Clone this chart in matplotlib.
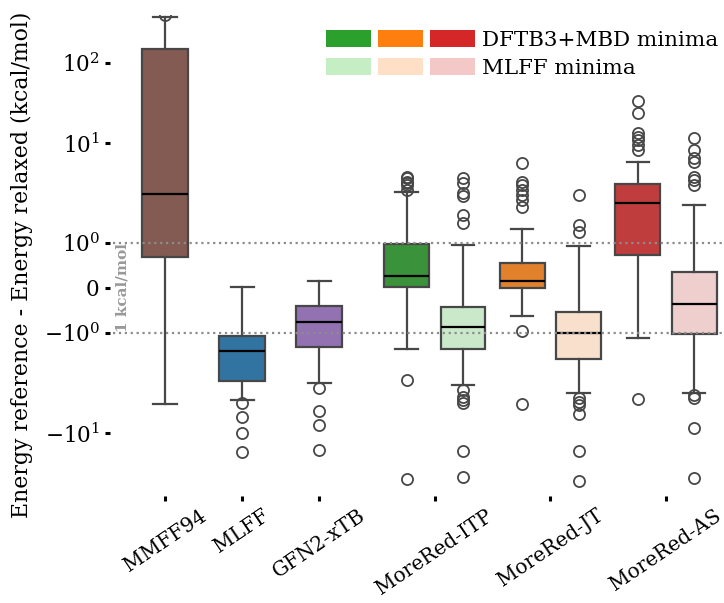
import numpy as np
import matplotlib
matplotlib.use("Agg")
import matplotlib.pyplot as plt
from matplotlib.patches import Patch
from matplotlib.legend_handler import HandlerTuple
import seaborn as sns

plt.rcParams['font.family'] = 'DejaVu Serif'
plt.rcParams['mathtext.fontset'] = 'dejavuserif'

# x categories
methods = ["MMFF94", "MLFF", "GFN2-xTB", "MoreRed-ITP", "MoreRed-JT", "MoreRed-AS"]

# box statistics (kcal/mol)
# order: MMFF94, MLFF, GFN2-xTB, ITP(DFTB), ITP(MLFF), JT(DFTB), JT(MLFF), AS(DFTB), AS(MLFF)
medians = [3.09, -1.51, -0.75, 0.27, -0.87, 0.16, -1.0, 2.53, -0.35]
q1 = [0.69, -3.02, -1.39, 0.03, -1.45, 0.0, -1.83, 0.73, -1.02]
q3 = [151, -1.07, -0.39, 0.98, -0.42, 0.56, -0.54, 3.89, 0.36]
whislo = [-5.09, -4.68, -3.14, -1.45, -3.31, -0.62, -4.01, -1.12, -3.95]
whishi = [372, 0.03, 0.16, 3.21, 0.96, 1.38, 0.93, 6.5, 2.42]
fliers = [
    [398],
    [-5.05, -6.87, -9.93, -17.1],
    [-3.57, -5.98, -8.32, -16.3],
    [4.6, 4.44, 4.1, 3.95, 3.8, 3.39, -2.95, -37.9],
    [4.44, 3.95, 3.14, 2.95, 1.91, 1.57, -3.72, -4.33, -4.68, -5.05, -16.6, -35.8],
    [6.35, 4.1, 3.8, 3.39, 3.02, 2.69, 2.31, -0.96, -5.16],
    [3.02, 1.51, 1.3, -4.5, -4.86, -5.25, -6.5, -16.6, -39.8],
    [33.8, 23.5, 13.2, 12.0, 10.9, 9.55, 8.5, -4.6],
    [11.5, 8.5, 7.03, 6.5, 4.6, 4.27, 3.8, -4.2, -4.45, -8.98, -36.2],
]

base_colors = ['#8c564b', '#1f77b4', '#9467bd',
               '#2ca02c', '#c5eec5', '#ff7f0e', '#ffdfc5', '#d62728', '#f5c8c8']
legend_labels = ["DFTB3+MBD minima", "MLFF minima"]


# symmetric log-like scale (linear between -1 and 1)
def fwd(x):
    x = np.asarray(x, dtype=float)
    a = np.abs(x)
    u = np.where(a <= 1, 0.45 * a,
                 np.where(a <= 10, 0.45 + np.log10(np.maximum(a, 1)),
                          1.45 + 0.8 * np.log10(np.maximum(a, 10) / 10)))
    return np.sign(x) * u


def inv(u):
    u = np.asarray(u, dtype=float)
    a = np.minimum(np.abs(u), 20)
    x = np.where(a <= 0.45, a / 0.45,
                 np.where(a <= 1.45, 10 ** (np.minimum(a, 1.45) - 0.45),
                          10 * 10 ** ((np.maximum(a, 1.45) - 1.45) / 0.8)))
    return np.sign(u) * x


fig = plt.figure(figsize=(7.24, 6.03), dpi=100)
ax = fig.add_axes([113 / 724, 1 - 490 / 603, 609 / 724, 475 / 603])
ax.set_yscale('function', functions=(fwd, inv))

# spines off, ticks kept a bit outside the axes
for s in ax.spines.values():
    s.set_visible(False)
ax.spines['left'].set_position(('outward', 2))
ax.spines['bottom'].set_position(('outward', 4))

# positions: 3 single boxes, then 3 groups of two
group_x = [0, 1, 2, 3.5, 5, 6.5]
off = 0.366
positions = [0, 1, 2, 3.5 - off, 3.5 + off, 5 - off, 5 + off, 6.5 - off, 6.5 + off]
widths = [0.6, 0.6, 0.6] + [0.58] * 6

stats = []
for i in range(len(medians)):
    stats.append(dict(med=medians[i], q1=q1[i], q3=q3[i],
                      whislo=whislo[i], whishi=whishi[i], fliers=fliers[i]))

line_c = '#474747'
bp = ax.bxp(stats, positions=positions, widths=widths, patch_artist=True,
            capwidths=[w / 2 for w in widths], manage_ticks=False,
            boxprops=dict(linewidth=1.6, edgecolor=line_c),
            whiskerprops=dict(linewidth=1.6, color=line_c),
            capprops=dict(linewidth=1.6, color=line_c),
            medianprops=dict(linewidth=1.6, color='k'),
            flierprops=dict(marker='o', markerfacecolor='none', markeredgecolor=line_c,
                            markersize=8, markeredgewidth=1.3))
for patch, c in zip(bp['boxes'], base_colors):
    patch.set_facecolor(sns.desaturate(c, 0.75))

# 1 kcal/mol guides
for yv in (1, -1):
    ax.axhline(yv, color='#8c8c8c', linestyle=':', linewidth=1.6, zorder=5)
ax.text(-0.55, 0, '1 kcal/mol', rotation=90, color='#999999', fontweight='bold',
        fontsize=11, ha='center', va='center')

ax.set_xlim(-0.675, 7.227)
ax.set_ylim(inv(-2.02), inv(2.73))

ax.tick_params(axis='both', length=3.6, width=2.2, pad=4)
ax.set_xticks(group_x)
ax.set_xticklabels(methods, rotation=34, fontsize=14.5)
ax.set_yticks([-10, -1, 0, 1, 10, 100])
ax.set_yticklabels([r'$-10^{1}$', r'$-10^{0}$', '0', r'$10^{0}$', r'$10^{1}$', r'$10^{2}$'],
                   fontsize=15.5)
ax.set_ylabel('Energy reference - Energy relaxed (kcal/mol)', fontsize=15.8)
ax.yaxis.set_label_coords(-0.132, 0.474)

# legend: three colours per row
dark = [Patch(facecolor=c) for c in ['#2ca02c', '#ff7f0e', '#d62728']]
light = [Patch(facecolor=c) for c in ['#c5eec5', '#ffdfc5', '#f5c8c8']]
ax.legend([tuple(dark), tuple(light)], legend_labels,
          handler_map={tuple: HandlerTuple(ndivide=None, pad=0.33)},
          fontsize=15.4, frameon=False, handlelength=7.0, handleheight=0.85,
          handletextpad=0.3, labelspacing=0.38, borderaxespad=0.3,
          loc='upper right', bbox_to_anchor=(1.018, 1.0))

fig.savefig('out.png', dpi=100)
